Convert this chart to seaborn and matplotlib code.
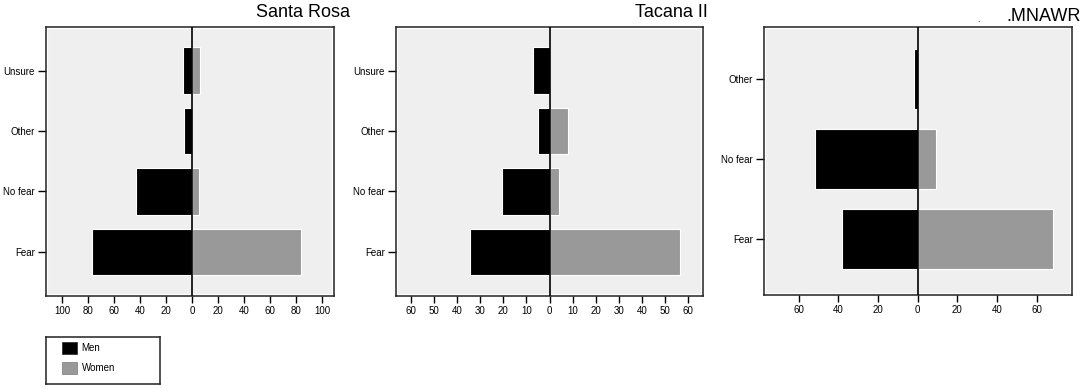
import numpy as np
import pandas as pd
import seaborn as sns
import matplotlib.pyplot as plt
from matplotlib.patches import Patch, Rectangle

# values (percent of respondents)
cats_4 = ['Unsure', 'Other', 'No fear', 'Fear']
santa_men = [7, 6, 43, 77]
santa_women = [6, 0, 5, 84]
tacana_men = [7, 5, 20.5, 34.5]
tacana_women = [0, 8, 4, 56.5]

cats_3 = ['Other', 'No fear', 'Fear']
mnawr_men = [2, 52, 38]
mnawr_women = [0, 9, 68]

titles = ['Santa Rosa', 'Tacana II', '.MNAWR']
xticks = [np.arange(-100, 101, 20), np.arange(-60, 61, 10), np.arange(-60, 61, 20)]
xlims = [(-112.5, 109), (-66.4, 66.4), (-77.3, 77.6)]

MEN = '#000000'
WOMEN = '#999999'

sns.set_style('white')
plt.rcParams['font.family'] = ['Liberation Sans', 'DejaVu Sans']
plt.rcParams['text.color'] = 'black'
plt.rcParams['xtick.color'] = 'black'
plt.rcParams['ytick.color'] = 'black'


def long_df(cats, men, women):
    # men drawn to the left (negative), women to the right
    return pd.concat([
        pd.DataFrame({'answer': cats, 'pct': -np.array(men, float), 'sex': 'Men'}),
        pd.DataFrame({'answer': cats, 'pct': np.array(women, float), 'sex': 'Women'}),
    ], ignore_index=True)


panels = [
    long_df(cats_4, santa_men, santa_women),
    long_df(cats_4, tacana_men, tacana_women),
    long_df(cats_3, mnawr_men, mnawr_women),
]
orders = [cats_4, cats_4, cats_3]

W, H = 1084, 389
fig = plt.figure(figsize=(W / 100, H / 100), dpi=100)
fig.patch.set_facecolor('white')

# axes boxes in pixels: left, top, right, bottom
boxes = [(46, 27, 334, 296), (396, 27, 703, 296), (764.3, 26.7, 1071.7, 295)]
title_pos = [(350, 16.7), (708, 17), (1081, 20.7)]
bar_w = [0.77, 0.77, 0.75]
ylims = [(3.73, -0.72), (3.73, -0.72), (2.7, -0.65)]

for i, df in enumerate(panels):
    l, t, r, b = boxes[i]
    ax = fig.add_axes([l / W, (H - b) / H, (r - l) / W, (b - t) / H])
    ax.set_facecolor('#efefef')
    sns.barplot(data=df, y='answer', x='pct', hue='sex', order=orders[i],
                hue_order=['Men', 'Women'], palette={'Men': MEN, 'Women': WOMEN},
                dodge=False, width=bar_w[i], orient='h', legend=False,
                edgecolor='white', linewidth=0.8, ax=ax)
    ax.axvline(0, color='black', lw=1.2, zorder=4)
    ax.add_patch(Rectangle((0, 0), 1, 1, transform=ax.transAxes, fill=False,
                           edgecolor='white', lw=3, zorder=0.5))
    ax.set_xlim(*xlims[i])
    ax.set_ylim(*ylims[i])
    ax.set_xticks(xticks[i])
    ax.set_xticklabels([str(abs(v)) for v in xticks[i]])
    ax.set_xlabel('')
    ax.set_ylabel('')
    ax.tick_params(axis='x', direction='out', length=5, width=1, color='black',
                   labelcolor='black', labelsize=7, pad=2, bottom=True)
    ax.tick_params(axis='y', direction='out', length=6, width=1, color='black',
                   labelcolor='black', labelsize=7, pad=2, left=True)
    for s in ax.spines.values():
        s.set_visible(True)
        s.set_color('#222222')
        s.set_linewidth(1.1)
    tx, ty = title_pos[i]
    fig.text(tx / W, (H - ty) / H, titles[i], ha='right', va='baseline',
             fontsize=13, color='black')

# stray dot next to the third title
fig.text(978 / W, (H - 22) / H, '.', ha='center', va='baseline', fontsize=6)

# legend box
lx0, ly0, lx1, ly1 = 45.7, 336.7, 160, 384
lax = fig.add_axes([lx0 / W, (H - ly1) / H, (lx1 - lx0) / W, (ly1 - ly0) / H])
lax.set_xticks([])
lax.set_yticks([])
lax.set_facecolor('white')
for s in lax.spines.values():
    s.set_color('#222222')
    s.set_linewidth(1.1)
handles = [Patch(facecolor=MEN, edgecolor='#333333', lw=0.6),
           Patch(facecolor=WOMEN, edgecolor='#888888', lw=0.6)]
lax.legend(handles, ['Men', 'Women'], loc='upper left',
           bbox_to_anchor=(16 / (lx1 - lx0), 1 - 5 / (ly1 - ly0)),
           frameon=False, fontsize=7, borderpad=0, borderaxespad=0,
           handlelength=1.55, handleheight=1.55, handletextpad=0.5,
           labelspacing=0.82)

fig.savefig('out.png', dpi=100)
